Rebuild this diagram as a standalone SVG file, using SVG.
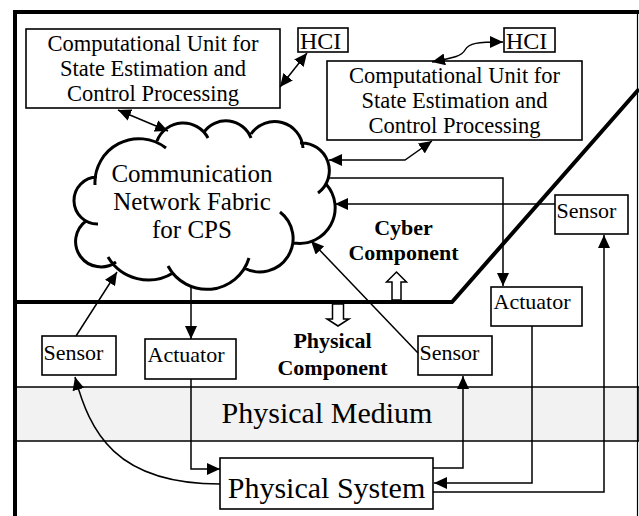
<svg xmlns="http://www.w3.org/2000/svg" width="639" height="516" viewBox="0 0 639 516">
<style>
.box{fill:#fff;stroke:#000;stroke-width:1.6}
.t{font-family:"Liberation Serif","Times New Roman",serif;fill:#000}
.b{font-weight:bold}
.c{fill:none;stroke:#000;stroke-width:1.5}
.cloud{fill:none;stroke:#000;stroke-width:3;stroke-linecap:butt}
.hollow{fill:#fff;stroke:#000;stroke-width:1.5}
</style>
<defs>
<marker id="ah" markerUnits="userSpaceOnUse" markerWidth="14" markerHeight="12" refX="13" refY="6" orient="auto-start-reverse">
<path d="M0,0 L13,6 L0,12 z" fill="#000"/>
</marker>
</defs>
<rect width="639" height="516" fill="#fff"/>
<g id="frame">
<rect x="16" y="387" width="623" height="54" fill="#f2f2f2" stroke="#000" stroke-width="1.5"/>
<line x1="13" y1="12" x2="639" y2="12" stroke="#000" stroke-width="4"/>
<line x1="15" y1="10" x2="15" y2="516" stroke="#000" stroke-width="4"/>
<line x1="637.5" y1="12" x2="637.5" y2="516" stroke="#000" stroke-width="1.2"/>
<path d="M15,302 L452,302 L639,89" fill="none" stroke="#000" stroke-width="4"/>
<text class="t" x="327" y="423" font-size="30" text-anchor="middle">Physical Medium</text>
</g>
<g id="cloud">
<path class="cloud" d="M95,185 A44,44 0 0,1 166,148 M157,141 A28,28 0 0,1 208,138 M204,132 A27,27 0 0,1 251,138 M251,134 A28.5,28.5 0 0,1 303,148 M300,143 A27.7,27.7 0 0,1 318,193 M326,184 A35.6,35.6 0 0,1 294,243 M280,212 A33.4,33.4 0 0,1 244,268 M249,258 A44,44 0 0,1 168,266 M173,273 A47,47 0 0,1 108,257 M116,262 A25.4,25.4 0 0,1 86,221 M98,224 A23.5,23.5 0 0,1 97,177"/>
<text class="t" font-size="25" text-anchor="middle"><tspan x="192" y="182">Communication</tspan><tspan x="192" y="210">Network Fabric</tspan><tspan x="192" y="238">for CPS</tspan></text>
</g>
<g id="cu1">
<rect class="box" x="26" y="29" width="254" height="79"/>
<text class="t" font-size="22.5" text-anchor="middle"><tspan x="153" y="51">Computational Unit for</tspan><tspan x="153" y="76">State Estimation and</tspan><tspan x="153" y="101">Control Processing</tspan></text>
</g>
<g id="hci1">
<rect class="box" x="298" y="28" width="50" height="24"/>
<text class="t" x="300" y="49" font-size="24">HCI</text>
</g>
<g id="hci2">
<rect class="box" x="504" y="28" width="51" height="24"/>
<text class="t" x="506" y="49" font-size="24">HCI</text>
</g>
<g id="cu2">
<rect class="box" x="327" y="61" width="255" height="79"/>
<text class="t" font-size="22.5" text-anchor="middle"><tspan x="454.5" y="83">Computational Unit for</tspan><tspan x="454.5" y="108">State Estimation and</tspan><tspan x="454.5" y="133">Control Processing</tspan></text>
</g>
<g id="sensor-right">
<rect class="box" x="555" y="195" width="73" height="39"/>
<text class="t" x="556.5" y="218" font-size="22">Sensor</text>
</g>
<g id="actuator-right">
<rect class="box" x="491" y="287" width="91" height="39"/>
<text class="t" x="493.5" y="309" font-size="22">Actuator</text>
</g>
<g id="sensor-left">
<rect class="box" x="42" y="336" width="74" height="39"/>
<text class="t" x="43.5" y="360" font-size="22">Sensor</text>
</g>
<g id="actuator-left">
<rect class="box" x="145" y="339" width="91" height="40"/>
<text class="t" x="147.5" y="362" font-size="22">Actuator</text>
</g>
<g id="sensor-mid">
<rect class="box" x="418" y="336" width="74" height="39"/>
<text class="t" x="419.5" y="360" font-size="22">Sensor</text>
</g>
<g id="physical-system">
<rect class="box" x="220" y="458" width="213" height="51"/>
<text class="t" x="326.5" y="498" font-size="30" text-anchor="middle">Physical System</text>
</g>
<g id="labels">
<text class="t b" font-size="22" text-anchor="middle"><tspan x="403.5" y="235">Cyber</tspan><tspan x="403.5" y="260">Component</tspan></text>
<text class="t b" font-size="22" text-anchor="middle"><tspan x="332.5" y="348">Physical</tspan><tspan x="332.5" y="375">Component</tspan></text>
<path class="hollow" d="M392,300 L392,282 L386.5,282 L396.5,272 L406.5,282 L401,282 L401,300 z"/>
<path class="hollow" d="M332.5,304 L332.5,319 L327,319 L338,326 L349,319 L343.5,319 L343.5,304 z"/>
</g>
<g id="connectors">
<line class="c" x1="280" y1="87" x2="307" y2="53" marker-start="url(#ah)" marker-end="url(#ah)"/>
<path class="c" d="M432,62 C452,58 461,57 465,50 C469,43 477,42 503,42" marker-start="url(#ah)" marker-end="url(#ah)"/>
<line class="c" x1="118" y1="110" x2="168" y2="131" marker-start="url(#ah)" marker-end="url(#ah)"/>
<path class="c" d="M329,160 L405,160 L432,141" marker-start="url(#ah)" marker-end="url(#ah)"/>
<path class="c" d="M328,178 L503,178 L503,286" marker-end="url(#ah)"/>
<path class="c" d="M555,204 L335,204" marker-end="url(#ah)"/>
<path class="c" d="M418,353 L311,241" marker-end="url(#ah)"/>
<path class="c" d="M76,336 L117,272" marker-end="url(#ah)"/>
<path class="c" d="M191,286 L191,339" marker-end="url(#ah)"/>
<path class="c" d="M191,379 L191,469 L220,469" marker-end="url(#ah)"/>
<path class="c" d="M220,484 C115,484 90,432 75,377" marker-end="url(#ah)"/>
<path class="c" d="M433,468 L463,468 L463,376" marker-end="url(#ah)"/>
<path class="c" d="M532,326 L532,483 L434,483" marker-end="url(#ah)"/>
<path class="c" d="M433,492 L604,492 L604,235" marker-end="url(#ah)"/>
</g>
</svg>
